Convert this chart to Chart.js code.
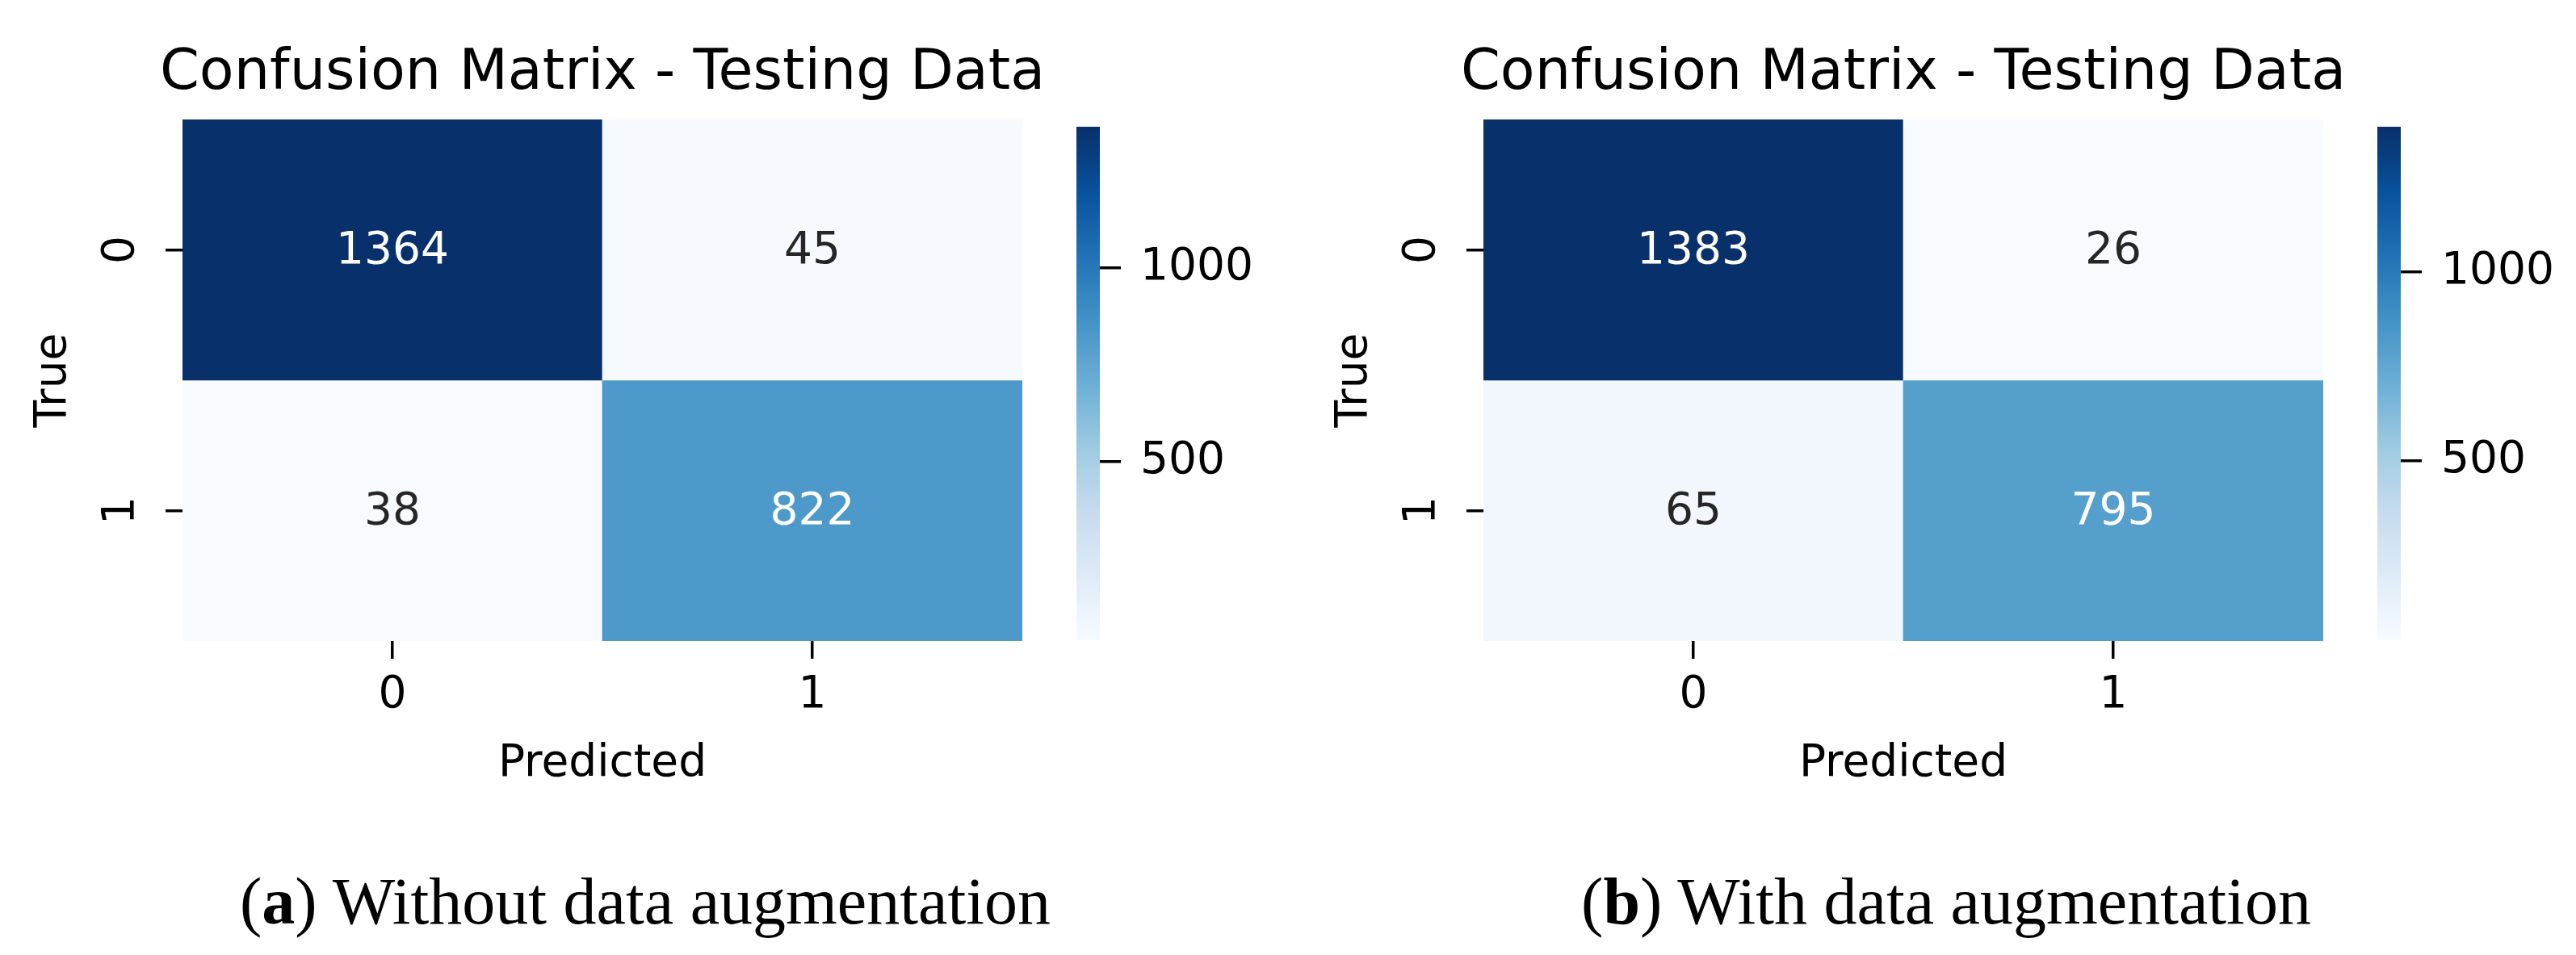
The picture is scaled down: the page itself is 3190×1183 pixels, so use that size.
<!DOCTYPE html>
<html>
<head>
<meta charset="utf-8">
<script src="https://cdn.jsdelivr.net/npm/chart.js@4.4.0/dist/chart.umd.min.js"></script>
<style>
  body { margin:0; width:3190px; height:1183px; background:#fff; position:relative; overflow:hidden; }
  canvas { position:absolute; }
  .cap { position:absolute; top:1076px; font-family:'Liberation Serif', serif; font-size:82px; line-height:82px; white-space:nowrap; transform:translateX(-50%); color:#000; }
</style>
</head>
<body>
<script>
// confusion matrix values (rows = true, cols = predicted)
const predLabels = ['0', '1'];
const trueLabels = ['0', '1'];
const countsA = [[1364, 45], [38, 822]];
const countsB = [[1383, 26], [65, 795]];
const colorTicks = [500, 1000];
const panelTitle = 'Confusion Matrix - Testing Data';
const captionLetters = ['a', 'b'];
const captionTexts = ['Without data augmentation', 'With data augmentation'];

// matplotlib "Blues"
const blues = ['#f7fbff', '#deebf7', '#c6dbef', '#9ecae1', '#6baed6', '#4292c6', '#2171b5', '#08519c', '#08306b'];

Chart.defaults.font.family = "'DejaVu Sans', sans-serif";
Chart.defaults.color = '#000';

function hexRgb(h) {
  return [1, 3, 5].map(k => parseInt(h.substr(k, 2), 16));
}
function bluesAt(t) {
  t = Math.max(0, Math.min(1, t));
  const p = t * (blues.length - 1);
  const i = Math.min(Math.floor(p), blues.length - 2);
  const f = p - i;
  const a = hexRgb(blues[i]), b = hexRgb(blues[i + 1]);
  return a.map((c, k) => Math.round(c + (b[k] - c) * f));
}
function lum(rgb) {
  const l = rgb.map(c => {
    c = c / 255;
    return c <= 0.03928 ? c / 12.92 : Math.pow((c + 0.055) / 1.055, 2.4);
  });
  return 0.2126 * l[0] + 0.7152 * l[1] + 0.0722 * l[2];
}

const tickFont = {size: 55};

function drawPanel(n, counts, dx) {
  const flat = counts.flat();
  const vmin = Math.min(...flat), vmax = Math.max(...flat);
  const rgbs = counts.map(row => row.map(v => bluesAt((v - vmin) / (vmax - vmin))));

  const cv = document.createElement('canvas');
  cv.width = 1300; cv.height = 1000;
  cv.style.left = dx + 'px'; cv.style.top = '0px';
  document.body.appendChild(cv);

  const cellText = {
    id: 'cellText' + n,
    afterDatasetsDraw(chart) {
      const ctx = chart.ctx;
      const area = chart.chartArea;
      ctx.save();
      ctx.textAlign = 'center';
      ctx.textBaseline = 'middle';
      // title centred over the heatmap
      ctx.font = "70px 'DejaVu Sans'";
      ctx.fillStyle = '#000';
      ctx.fillText(panelTitle, (area.left + area.right) / 2, 92);

      ctx.font = "55px 'DejaVu Sans'";
      chart.data.datasets.forEach((ds, i) => {
        chart.getDatasetMeta(i).data.forEach((bar, j) => {
          const c = bar.getCenterPoint();
          ctx.fillStyle = lum(rgbs[i][j]) < 0.408 ? '#ffffff' : '#262626';
          ctx.fillText(String(counts[i][j]), c.x, c.y + 2);
        });
      });
      // y tick labels, rotated like matplotlib
      const ys = chart.scales.y;
      ctx.fillStyle = '#000';
      trueLabels.forEach((t, i) => {
        ctx.save();
        ctx.translate(area.left - 75, ys.getPixelForValue(i));
        ctx.rotate(-Math.PI / 2);
        ctx.fillText(t, 0, 0);
        ctx.restore();
      });
      ctx.restore();
    }
  };

  new Chart(cv, {
    type: 'bar',
    data: {
      labels: predLabels,
      datasets: trueLabels.map((t, i) => ({
        label: t,
        data: predLabels.map((p, j) => ({x: p, y: [i - 0.5, i + 0.5]})),
        backgroundColor: rgbs[i].map(c => `rgb(${c[0]},${c[1]},${c[2]})`),
        borderWidth: 0,
        grouped: false,
        barPercentage: 1,
        categoryPercentage: 1
      }))
    },
    options: {
      responsive: false,
      animation: false,
      devicePixelRatio: 1,
      layout: {padding: {left: 0, top: 148, right: 34, bottom: 0}},
      plugins: {
        legend: {display: false},
        tooltip: {enabled: false},
        title: {display: false}
      },
      scales: {
        x: {
          type: 'category',
          offset: true,
          grid: {offset: false, drawOnChartArea: false, tickLength: 22, color: '#000', lineWidth: 3.5},
          border: {display: false},
          ticks: {font: tickFont, color: '#000', padding: 13},
          title: {display: true, text: 'Predicted', font: tickFont, color: '#000', padding: {top: 0, bottom: 20}},
          afterFit: s => { s.height = 206; }
        },
        y: {
          type: 'linear',
          min: -0.5,
          max: 1.5,
          reverse: true,
          afterBuildTicks: s => { s.ticks = trueLabels.map((t, i) => ({value: i})); },
          grid: {drawOnChartArea: false, tickLength: 21, color: '#000', lineWidth: 3.5},
          border: {display: false},
          ticks: {display: false},
          title: {display: true, text: 'True', font: tickFont, color: '#000', padding: {top: 34, bottom: 0}},
          afterFit: s => { s.width = 226; }
        }
      }
    },
    plugins: [cellText]
  });

  // colorbar
  const cb = document.createElement('canvas');
  cb.width = 300; cb.height = 750;
  cb.style.left = (dx + 1333) + 'px'; cb.style.top = '100px';
  document.body.appendChild(cb);

  new Chart(cb, {
    type: 'bar',
    data: {
      labels: [''],
      datasets: [{
        data: [[vmin, vmax]],
        backgroundColor: c => {
          const a = c.chart.chartArea;
          if (!a) return blues[0];
          const g = c.chart.ctx.createLinearGradient(0, a.bottom, 0, a.top);
          blues.forEach((col, k) => g.addColorStop(k / (blues.length - 1), col));
          return g;
        },
        borderWidth: 0,
        barPercentage: 1,
        categoryPercentage: 1
      }]
    },
    options: {
      responsive: false,
      animation: false,
      devicePixelRatio: 1,
      layout: {padding: {top: 48, bottom: 56, left: 0, right: 0}},
      plugins: {legend: {display: false}, tooltip: {enabled: false}},
      scales: {
        x: {display: false},
        y: {
          position: 'right',
          min: vmin,
          max: vmax,
          afterBuildTicks: s => { s.ticks = colorTicks.map(v => ({value: v})); },
          grid: {drawOnChartArea: false, tickLength: 26, color: '#000', lineWidth: 3.5},
          border: {display: false},
          ticks: {font: tickFont, color: '#000', padding: 24, callback: v => String(v)},
          afterFit: s => { s.width = 271; }
        }
      }
    }
  });

  const cap = document.createElement('div');
  cap.className = 'cap';
  cap.style.left = (dx + 799) + 'px';
  cap.innerHTML = '(<b>' + captionLetters[n] + '</b>) ' + captionTexts[n];
  document.body.appendChild(cap);
}

drawPanel(0, countsA, 0);
drawPanel(1, countsB, 1611);
</script>
</body>
</html>
